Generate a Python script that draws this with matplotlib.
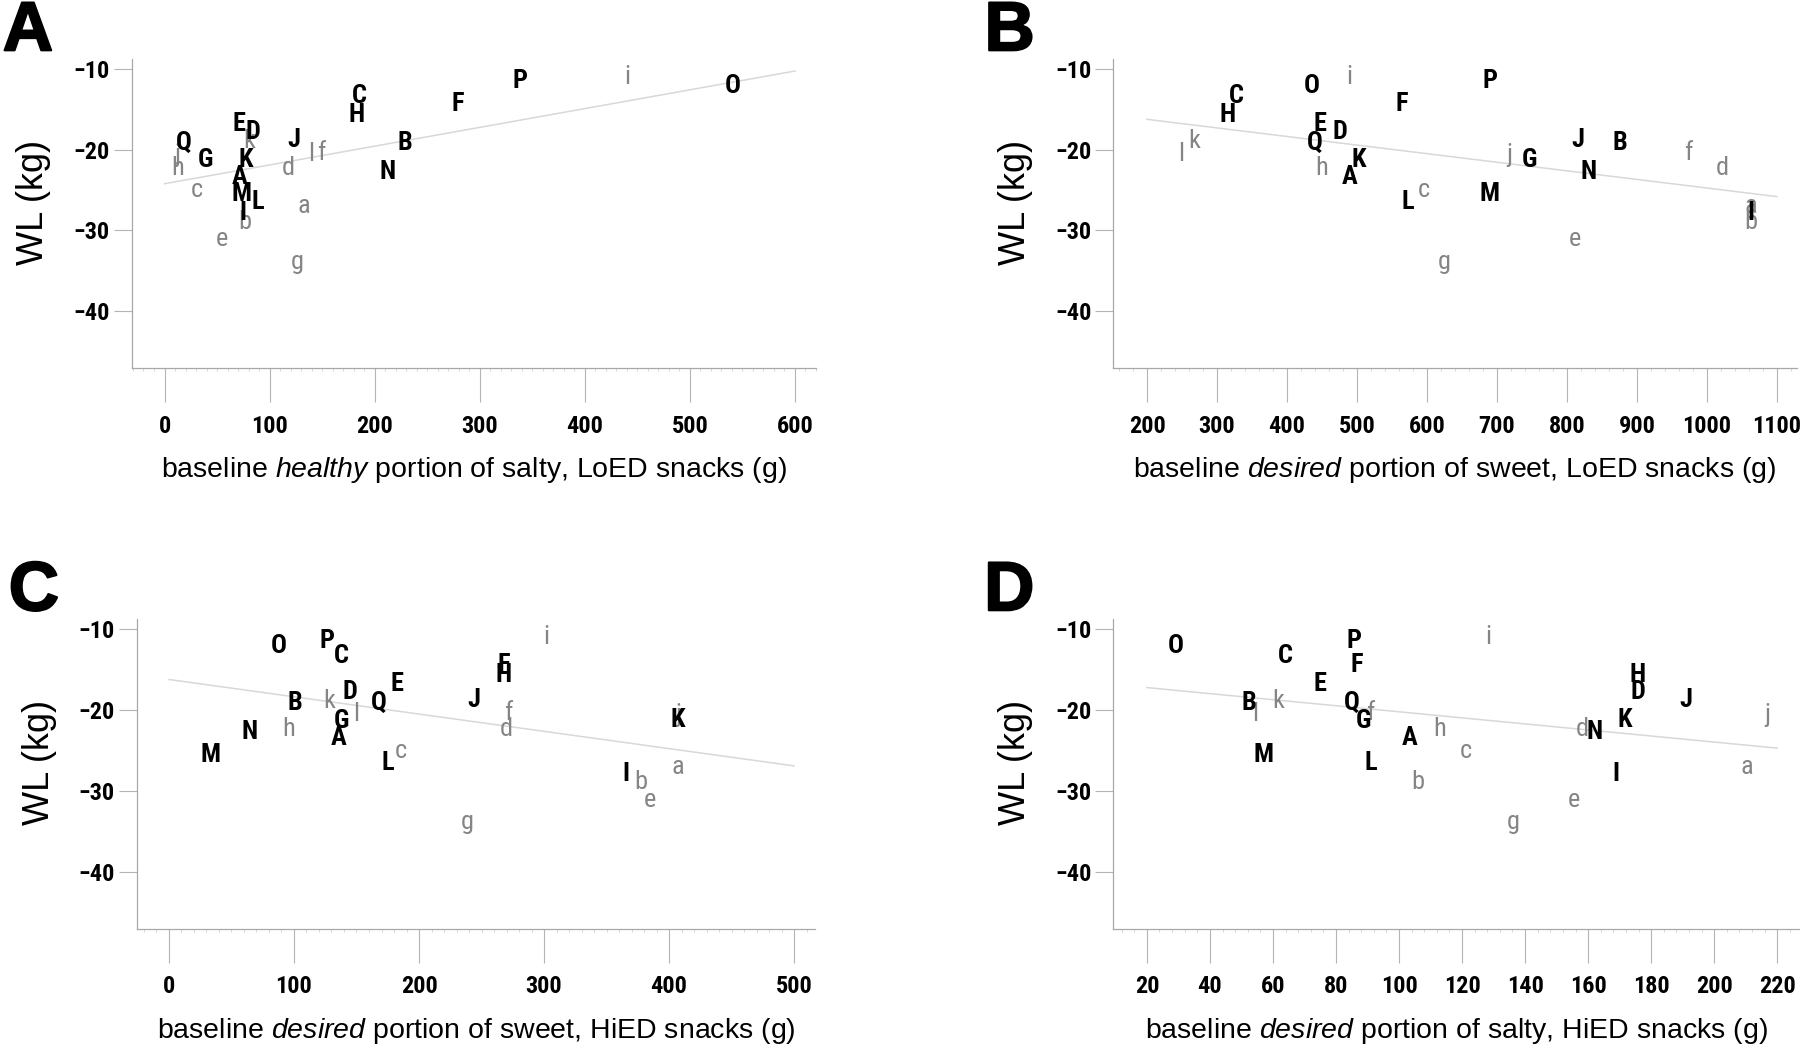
import matplotlib
matplotlib.use('Agg')
import matplotlib.pyplot as plt
import matplotlib.patheffects as pe
from matplotlib import font_manager as fm
from matplotlib.ticker import MultipleLocator

plt.rcParams['font.family'] = ['Liberation Sans', 'DejaVu Sans']
plt.rcParams['mathtext.fontset'] = 'custom'
plt.rcParams['mathtext.rm'] = 'Liberation Sans'
plt.rcParams['mathtext.it'] = 'Liberation Sans:italic'


def find_font(name, stretch='normal'):
    try:
        return fm.findfont(fm.FontProperties(family=name, stretch=stretch),
                           fallback_to_default=False)
    except ValueError:
        return None


# the reference uses a narrow bold face for ticks and point labels
NARROW, STRETCH, TICK_FS, MARK_FS = ['Liberation Sans', 'DejaVu Sans'], 'normal', 14.5, 16.5
for cand in ['Liberation Sans Narrow', 'Roboto Condensed', 'Open Sans Condensed']:
    if find_font(cand):
        NARROW, TICK_FS, MARK_FS = [cand, 'Liberation Sans', 'DejaVu Sans'], 17.5, 19
        break
else:
    p = find_font('DejaVu Sans', 'condensed')
    if p and 'ondensed' in p:
        NARROW, STRETCH, TICK_FS, MARK_FS = ['DejaVu Sans'], 'condensed', 15, 17

# participants: upper case (black) and lower case (grey)
upper = list('ABCDEFGHIJKLMNOPQ')
lower = list('abcdefghijkl')

# weight loss (kg), same for every panel
wl_upper = [-23.4, -19.1, -13.35, -17.8, -16.8, -14.35, -21.3, -15.6, -27.9,
            -18.8, -21.25, -26.5, -25.5, -22.7, -12.1, -11.4, -19.1]
wl_lower = [-27.0, -28.9, -25.0, -22.3, -31.1, -20.4, -33.9, -22.3, -10.9,
            -20.6, -18.9, -20.5]

# baseline portions (g)
xa_upper = [71, 229, 185, 84, 71, 279, 38.6, 183, 75, 123, 77, 89, 73, 212.5, 541, 338, 18.5]
xa_lower = [133, 76, 31, 118, 55, 149, 126, 12.5, 440, 12, 81, 140]
xb_upper = [490, 876, 327, 475, 446.5, 564, 745.8, 314.6, 1063, 815.8, 502.6, 572.6,
            690, 830.7, 435, 690, 439]
xb_lower = [1063, 1063, 595, 1022, 811.7, 974, 624.6, 449, 488.5, 717, 267.6, 248.6]
xc_upper = [135.5, 100.6, 137.6, 144.8, 182.7, 268, 137.6, 268, 365.7, 243.7, 407, 175,
            33.2, 64.8, 88, 126.7, 168]
xc_lower = [407, 377.5, 185.6, 269.8, 384.7, 271, 238.6, 95.5, 301.8, 407, 128, 149.8]
xd_upper = [103.2, 52.4, 63.8, 175.7, 74.9, 86.7, 88.7, 175.7, 168.7, 191, 171.5, 90.9,
            57, 162, 29.2, 85.8, 85]
xd_lower = [210.3, 105.9, 121.1, 158.1, 155.5, 90.9, 136.1, 112.9, 128.4, 216.9, 61.6, 54.2]

# fit line end points
fit_a = ([0, 600], [-24.2, -10.2])
fit_b = ([200, 1100], [-16.2, -25.8])
fit_c = ([0, 500], [-16.2, -26.9])
fit_d = ([20, 220], [-17.2, -24.7])

xlabels = [r'baseline $\it{healthy}$ portion of salty, LoED snacks (g)',
           r'baseline $\it{desired}$ portion of sweet, LoED snacks (g)',
           r'baseline $\it{desired}$ portion of sweet, HiED snacks (g)',
           r'baseline $\it{desired}$ portion of salty, HiED snacks (g)']
xticks = [list(range(0, 601, 100)), list(range(200, 1101, 100)),
          list(range(0, 501, 100)), list(range(20, 221, 20))]
yticks = [-10, -20, -30, -40]
panel_letters = ['A', 'B', 'C', 'D']

panels = [
    (xa_upper, xa_lower, fit_a, (-31, 620), 10, [0.0733, 0.6505, 0.380, 0.2935]),
    (xb_upper, xb_lower, fit_b, (152, 1128.6), 20, [0.6186, 0.6505, 0.3797, 0.2935]),
    (xc_upper, xc_lower, fit_c, (-25.6, 516.8), 10, [0.0761, 0.1178, 0.3767, 0.2944]),
    (xd_upper, xd_lower, fit_d, (9.4, 227), 4, [0.6186, 0.1178, 0.381, 0.2944]),
]

fig = plt.figure(figsize=(18, 10.53), dpi=100)

for i, (xu, xl, fit, xlim, minor, pos) in enumerate(panels):
    ax = fig.add_axes(pos)
    ax.plot(fit[0], fit[1], color='#d8d8d8', lw=1.1, zorder=1)
    for lab, x, y in zip(lower, xl, wl_lower):
        ax.text(x, y, lab, color='#858585', fontsize=MARK_FS, family=NARROW,
                fontstretch=STRETCH, ha='center', va='center', zorder=2)
    for lab, x, y in zip(upper, xu, wl_upper):
        ax.text(x, y, lab, color='black', fontsize=MARK_FS, family=NARROW,
                fontstretch=STRETCH, fontweight='bold', ha='center', va='center', zorder=3)
    ax.set_xlim(*xlim)
    ax.set_ylim(-47.1, -8.7)
    ax.set_xticks(xticks[i])
    ax.set_yticks(yticks)
    ax.xaxis.set_minor_locator(MultipleLocator(minor))
    for sp in ['top', 'right']:
        ax.spines[sp].set_visible(False)
    for sp in ['left', 'bottom']:
        ax.spines[sp].set_color('#a8a8a8')
        ax.spines[sp].set_linewidth(0.9)
    ax.tick_params(axis='x', which='major', length=24.5, width=0.8, color='#b4b4b4', pad=9)
    ax.tick_params(axis='x', which='minor', length=2.5, width=0.6, color='#cfcfcf')
    ax.tick_params(axis='y', which='major', length=13, width=0.8, color='#b4b4b4', pad=3)
    for t in ax.get_xticklabels() + ax.get_yticklabels():
        t.set_family(NARROW)
        t.set_fontstretch(STRETCH)
        t.set_fontweight('bold')
        t.set_fontsize(TICK_FS)
    ax.set_xlabel(xlabels[i], fontsize=20.5)
    ax.xaxis.set_label_coords(0.5, -0.28)
    ax.set_ylabel('WL (kg)', fontsize=26)
    ax.yaxis.set_label_coords(-0.118, 0.537)
    ax.text(-0.152, 1.028, panel_letters[i], transform=ax.transAxes,
            fontsize=50, fontweight='bold', ha='center', va='baseline',
            path_effects=[pe.withStroke(linewidth=1.5, foreground='black')])

fig.savefig('out.png', dpi=100)
